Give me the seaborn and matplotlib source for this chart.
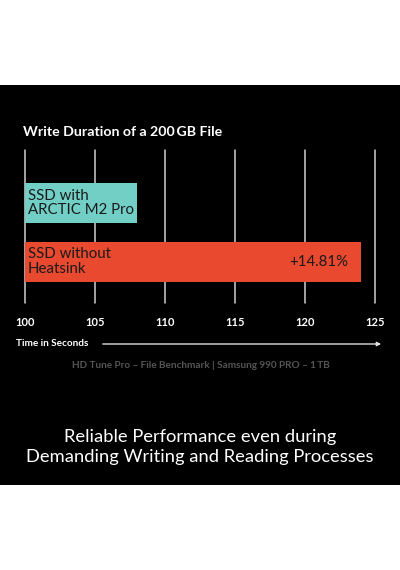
import matplotlib
matplotlib.use("Agg")
import matplotlib.pyplot as plt
from matplotlib.patches import Rectangle, FancyArrowPatch
import seaborn as sns
import pandas as pd

# ---- data ----
categories = ["SSD with\nARCTIC M2 Pro", "SSD without\nHeatsink"]
seconds = [108, 124]
x_ticks = [100, 105, 110, 115, 120, 125]
bar_colors = ["#72CFC6", "#E8492F"]

title = "Write Duration of a 200\u2009GB File"
axis_label = "Time in Seconds"
source = "HD Tune Pro \u2013 File Benchmark | Samsung 990 PRO \u2013 1\u2009TB"
caption = "Reliable Performance even during\nDemanding Writing and Reading Processes"

sns.set_theme(style="white")
plt.rcParams["font.family"] = ["Lato", "DejaVu Sans"]

W, H = 400, 570
fig = plt.figure(figsize=(W / 100, H / 100), dpi=100)
fig.patch.set_facecolor("white")
fig.patches.append(Rectangle((0, 1 - 485 / H), 1, 400 / H, transform=fig.transFigure,
                             facecolor="black", edgecolor="none", zorder=-10))

ax = fig.add_axes([25 / W, 1 - 303 / H, 350 / W, 153 / H])
ax.set_facecolor("none")

df = pd.DataFrame({"cat": categories, "sec": seconds})
sns.barplot(data=df, x="sec", y="cat", hue="cat", palette=bar_colors, legend=False,
            orient="h", width=0.68, ax=ax, saturation=1, edgecolor="none")

ax.set_xlim(x_ticks[0], x_ticks[-1])
ax.set_ylim(1.70, -0.90)
ax.set_xticks(x_ticks)
ax.set_xticklabels([str(t) for t in x_ticks], fontweight="bold")
ax.set_yticks([])
ax.set_xlabel("")
ax.set_ylabel("")
ax.tick_params(axis="x", length=0, pad=10, colors="white", labelsize=8)
for s in ax.spines.values():
    s.set_visible(False)
ax.grid(axis="x", color="#d0d0d0", linewidth=1.1)
ax.set_axisbelow(True)
for gl in ax.get_xgridlines():
    gl.set_clip_on(False)

# labels inside bars
for i, (c, v) in enumerate(zip(categories, seconds)):
    ax.text(x_ticks[0] + 0.2, i, c, ha="left", va="center", fontsize=10.8,
            color="#1a1a1a", linespacing=1.08)

pct = (seconds[1] / seconds[0] - 1) * 100
ax.text(seconds[1] - 0.9, 1, f"+{pct:.2f}%", ha="right", va="center",
        fontsize=10.8, color="#1a1a1a")

# title
fig.text(23 / W, 1 - 132 / H, title, ha="left", va="center", fontsize=10.2,
         fontweight="bold", color="white")

# axis label + arrow
fig.text(16 / W, 1 - 344 / H, axis_label, ha="left", va="center", fontsize=7.2,
         fontweight="bold", color="white")
fig.add_artist(FancyArrowPatch(
    (100 / W, 1 - 344 / H), (384 / W, 1 - 344 / H), transform=fig.transFigure,
    arrowstyle="-|>", mutation_scale=6, color="#e0e0e0", linewidth=1))

# source
fig.text(201 / W, 1 - 366 / H, source, ha="center", va="center", fontsize=7.2,
         fontweight="bold", color="#555555")

# caption
fig.text(200 / W, 1 - 447 / H, caption, ha="center", va="center", fontsize=13.2,
         color="white", linespacing=1.34)

fig.savefig("out.png", dpi=100, facecolor="white")
